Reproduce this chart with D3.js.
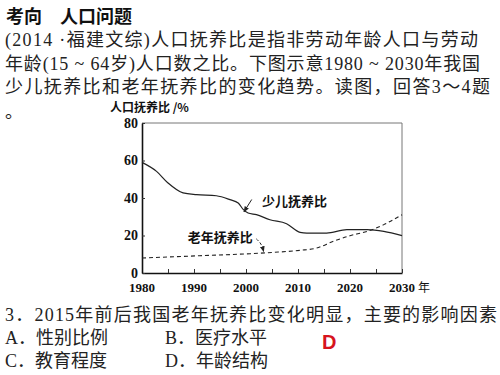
<!DOCTYPE html>
<html>
<head>
<meta charset="utf-8">
<script src="https://cdn.jsdelivr.net/npm/d3@7"></script>
<style>
  body { margin: 0; background: #fff; }
  svg { display: block; }
</style>
</head>
<body>
<div id="chart"></div>
<script>
// data
let years = [1980, 1982.8, 1985, 1987.9, 1990.5, 1994.3, 1996.9, 1998.5, 1999.5, 2000.4, 2002, 2004.6, 2007.8, 2010.4, 2011.7, 2015.5, 2019.4, 2023.3, 2026.5, 2030];
let childRatio = [59, 54.2, 48, 42.7, 41.8, 41.2, 39.1, 37.3, 33.8, 32, 31.1, 28.4, 26.3, 21.7, 21.3, 21.3, 23.1, 23.1, 22.2, 19.9];
let oldYears = [1980, 1991, 2000.8, 2005.3, 2010.4, 2013.6, 2016.8, 2020, 2023.3, 2026.5, 2030];
let oldRatio = [8, 9.2, 10.3, 11, 12.1, 13.3, 16.9, 19.9, 22.2, 25.8, 31.1];
let xTickLabels = [1980, 1990, 2000, 2010, 2020, 2030];
let xMinorTicks = [1980, 1985, 1990, 1995, 2000, 2005, 2010, 2015, 2020, 2025, 2030];
let yTickLabels = [0, 20, 40, 60, 80];

let headLines = [
    "(2014 ·福建文综)人口抚养比是指非劳动年龄人口与劳动",
    "年龄(15 ~ 64岁)人口数之比。下图示意1980 ~ 2030年我国",
    "少儿抚养比和老年抚养比的变化趋势。读图，回答3～4题"
];
let question = "3．2015年前后我国老年抚养比变化明显，主要的影响因素";
let options = ["A．性别比例", "B．医疗水平", "C．教育程度", "D．年龄结构"];

let serif = "'Liberation Serif', 'DejaVu Serif', 'Noto Sans CJK SC', serif";

function main(){
    let svg = d3.select("#chart").append("svg")
        .attr("width", 500)
        .attr("height", 375);

    // header text
    svg.append("text")
        .attr("x", 6).attr("y", 23)
        .attr("font-family", "'Noto Sans CJK SC', sans-serif")
        .attr("font-weight", "bold")
        .attr("font-size", 18)
        .attr("fill", "#111")
        .text("考向　人口问题");

    let headWidths = [473, 475, 485];
    headLines.forEach(function(t, i){
        svg.append("text")
            .attr("x", 5).attr("y", 46 + i * 23.5)
            .attr("font-family", serif)
            .attr("font-size", 18)
            .attr("fill", "#222")
            .attr("textLength", headWidths[i])
            .attr("lengthAdjust", "spacing")
            .text(t);
    });
    svg.append("text")
        .attr("x", 5).attr("y", 118)
        .attr("font-family", serif)
        .attr("font-size", 18)
        .attr("fill", "#222")
        .text("。");

    let left = 142, right = 402, top = 123, bottom = 273;

    let xScale = d3.scaleLinear().domain([1980, 2030]).range([left, right]);
    let yScale = d3.scaleLinear().domain([0, 80]).range([bottom, top]);

    let g = svg.append("g");

    // frame (top / right)
    g.append("line")
        .attr("x1", xScale(1980)).attr("x2", xScale(2030))
        .attr("y1", yScale(80)).attr("y2", yScale(80))
        .attr("stroke", "#777").attr("stroke-width", 1);
    g.append("line")
        .attr("x1", xScale(2030)).attr("x2", xScale(2030))
        .attr("y1", yScale(80)).attr("y2", yScale(0))
        .attr("stroke", "#777").attr("stroke-width", 1);

    // x axis
    let xAxis = g.append("g")
        .attr("transform", "translate(0," + bottom + ")")
        .call(d3.axisBottom(xScale).tickValues(xMinorTicks).tickSizeInner(-4).tickSizeOuter(0).tickFormat(""));
    xAxis.select(".domain").attr("stroke", "#111").attr("stroke-width", 1.6);
    xAxis.selectAll(".tick line").attr("stroke", "#333");

    g.selectAll(".xlab")
        .data(xTickLabels)
        .enter()
        .append("text")
        .attr("x", function(d){ return xScale(d); })
        .attr("y", 292)
        .attr("text-anchor", "middle")
        .attr("font-family", serif)
        .attr("font-weight", "bold")
        .attr("font-size", 13)
        .attr("fill", "#111")
        .text(function(d){ return d; });
    g.append("text")
        .attr("x", xScale(2030) + 16)
        .attr("y", 292)
        .attr("font-family", "'Noto Sans CJK SC', sans-serif")
        .attr("font-size", 12)
        .attr("fill", "#111")
        .text("年");

    // y axis
    let yAxis = g.append("g")
        .attr("transform", "translate(" + left + ",0)")
        .call(d3.axisLeft(yScale).tickValues(yTickLabels).tickSizeInner(-3).tickSizeOuter(0).tickPadding(4));
    yAxis.select(".domain").attr("stroke", "#111").attr("stroke-width", 1.6);
    yAxis.selectAll(".tick line").attr("stroke", "#333");
    yAxis.selectAll(".tick text")
        .attr("font-family", serif)
        .attr("font-weight", "bold")
        .attr("font-size", 14)
        .attr("fill", "#111");

    g.append("text")
        .attr("x", 110).attr("y", 112)
        .attr("font-family", "'Noto Sans CJK SC', sans-serif")
        .attr("font-weight", "bold")
        .attr("font-size", 12)
        .attr("fill", "#111")
        .text("人口抚养比 /%");

    // lines
    let line = d3.line()
        .x(function(d){ return xScale(d[0]); })
        .y(function(d){ return yScale(d[1]); })
        .curve(d3.curveMonotoneX);

    g.append("path")
        .attr("d", line(d3.zip(years, childRatio)))
        .attr("fill", "none")
        .attr("stroke", "#222")
        .attr("stroke-width", 1.2);

    g.append("path")
        .attr("d", line(d3.zip(oldYears, oldRatio)))
        .attr("fill", "none")
        .attr("stroke", "#222")
        .attr("stroke-width", 1.1)
        .attr("stroke-dasharray", "4,3");

    // labels with arrows
    let defs = svg.append("defs");
    defs.append("marker")
        .attr("id", "arrow")
        .attr("viewBox", "0 0 10 10")
        .attr("refX", 9).attr("refY", 5)
        .attr("markerWidth", 6).attr("markerHeight", 6)
        .attr("orient", "auto")
        .append("path")
        .attr("d", "M0,1 L10,5 L0,9 Z")
        .attr("fill", "#222");

    g.append("text")
        .attr("x", xScale(2003.1)).attr("y", yScale(35.6))
        .attr("font-family", "'Noto Sans CJK SC', sans-serif")
        .attr("font-weight", "bold")
        .attr("font-size", 13)
        .attr("fill", "#111")
        .text("少儿抚养比");
    g.append("line")
        .attr("x1", xScale(2001.1)).attr("y1", yScale(39.2))
        .attr("x2", xScale(1999.6)).attr("y2", yScale(32.6))
        .attr("stroke", "#222").attr("stroke-width", 1)
        .attr("marker-end", "url(#arrow)");

    g.append("text")
        .attr("x", xScale(1988.8)).attr("y", yScale(16.5))
        .attr("font-family", "'Noto Sans CJK SC', sans-serif")
        .attr("font-weight", "bold")
        .attr("font-size", 13)
        .attr("fill", "#111")
        .text("老年抚养比");
    g.append("path")
        .attr("d", d3.line().curve(d3.curveBasis)([
            [xScale(2002.0), yScale(18.2)],
            [xScale(2003.0), yScale(15.5)],
            [xScale(2003.4), yScale(11.4)]
        ]))
        .attr("fill", "none")
        .attr("stroke", "#222").attr("stroke-width", 1)
        .attr("stroke-dasharray", "3,2")
        .attr("marker-end", "url(#arrow)");

    // question
    svg.append("text")
        .attr("x", 5).attr("y", 321)
        .attr("font-family", serif)
        .attr("font-size", 18)
        .attr("fill", "#222")
        .attr("textLength", 492)
        .attr("lengthAdjust", "spacing")
        .text(question);

    options.forEach(function(t, i){
        svg.append("text")
            .attr("x", i % 2 === 0 ? 5 : 165)
            .attr("y", i < 2 ? 344 : 367)
            .attr("font-family", serif)
            .attr("font-size", 18)
            .attr("fill", "#222")
            .text(t);
    });

    svg.append("text")
        .attr("x", 322).attr("y", 349)
        .attr("font-family", "'Liberation Sans', Arial, sans-serif")
        .attr("font-weight", "bold")
        .attr("font-size", 20)
        .attr("fill", "#d7141d")
        .text("D");
}

main();
</script>
</body>
</html>
